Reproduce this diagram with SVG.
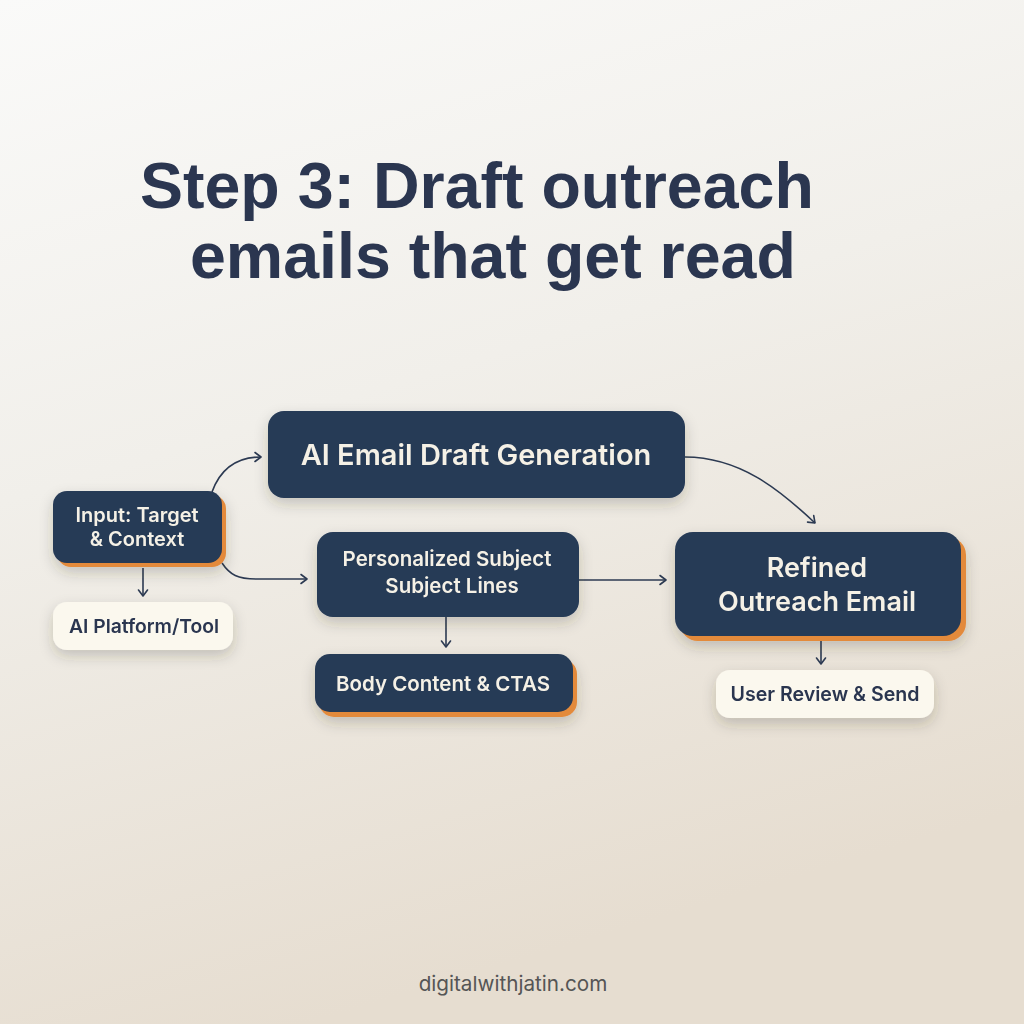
<svg xmlns="http://www.w3.org/2000/svg" width="1024" height="1024" viewBox="0 0 1024 1024">
<defs>
<linearGradient id="bg" x1="0" y1="0" x2="0.3" y2="1">
<stop offset="0" stop-color="#fafaf9"/>
<stop offset="0.45" stop-color="#f1efea"/>
<stop offset="1" stop-color="#e6ddd0"/>
</linearGradient>
<filter id="sh" x="-20%" y="-30%" width="140%" height="170%">
<feDropShadow dx="0" dy="6" stdDeviation="7" flood-color="#3a3020" flood-opacity="0.22"/>
</filter>
<marker id="ah" markerWidth="12" markerHeight="12" refX="9" refY="6" orient="auto" markerUnits="userSpaceOnUse">
<path d="M3,1.5 L9,6 L3,10.5" fill="none" stroke="#2c3a52" stroke-width="1.6" stroke-linecap="round" stroke-linejoin="round"/>
</marker>
<style>
.dark{fill:#263a56}
.acc{fill:#e38a3a}
.light{fill:#fbf8ee}
.tl{font-family:Inter,"Liberation Sans",sans-serif;font-weight:600;fill:#f5f1e6;text-anchor:middle}
.td{font-family:Inter,"Liberation Sans",sans-serif;font-weight:600;fill:#2a3650;text-anchor:middle}
.con{fill:none;stroke:#2c3a52;stroke-width:1.6;marker-end:url(#ah)}
.title{font-family:"Liberation Sans",Arial,sans-serif;font-weight:700;font-size:64.5px;fill:#2b3650}
</style>
</defs>
<rect width="1024" height="1024" fill="url(#bg)"/>
<g id="title">
<text class="title" x="140" y="208">Step 3: Draft outreach</text>
<text class="title" x="190" y="278">emails that get read</text>
</g>
<g id="connectors">
<path class="con" d="M212,492 C220,470 236,457 261,457"/>
<path class="con" d="M222,563 C230,575 238,579 256,579 L307,579"/>
<path class="con" d="M143,568 L143,596"/>
<path class="con" d="M685,457 C740,457 780,490 815,523"/>
<path class="con" d="M579,580 L666,580"/>
<path class="con" d="M446,617 L446,647"/>
<path class="con" d="M821,641 L821,664"/>
</g>
<g id="n-input" filter="url(#sh)">
<rect class="acc" x="57" y="495" width="169" height="72" rx="14"/>
<rect class="dark" x="53" y="491" width="169" height="72" rx="14"/>
<text class="tl" x="137" y="522" font-size="20">Input: Target</text>
<text class="tl" x="137" y="546" font-size="20">&amp; Context</text>
</g>
<g id="n-platform" filter="url(#sh)">
<rect class="light" x="53" y="602" width="180" height="48" rx="14"/>
<text class="td" x="144" y="633" font-size="19.3">AI Platform/Tool</text>
</g>
<g id="n-aidraft" filter="url(#sh)">
<rect class="dark" x="268" y="411" width="417" height="87" rx="16"/>
<text class="tl" x="476" y="465" font-size="29">AI Email Draft Generation</text>
</g>
<g id="n-subject" filter="url(#sh)">
<rect class="dark" x="317" y="532" width="262" height="85" rx="16"/>
<text class="tl" x="447" y="566" font-size="20.5">Personalized Subject</text>
<text class="tl" x="452" y="593" font-size="20.5">Subject Lines</text>
</g>
<g id="n-body" filter="url(#sh)">
<rect class="acc" x="319" y="659" width="258" height="58" rx="15"/>
<rect class="dark" x="315" y="654" width="258" height="58" rx="15"/>
<text class="tl" x="443" y="691" font-size="20.5">Body Content &amp; CTAS</text>
</g>
<g id="n-refined" filter="url(#sh)">
<rect class="acc" x="680" y="537" width="286" height="104" rx="18"/>
<rect class="dark" x="675" y="532" width="286" height="104" rx="18"/>
<text class="tl" x="817" y="577" font-size="27">Refined</text>
<text class="tl" x="817" y="611" font-size="27">Outreach Email</text>
</g>
<g id="n-review" filter="url(#sh)">
<rect class="light" x="716" y="670" width="218" height="48" rx="14"/>
<text class="td" x="825" y="701" font-size="19.6">User Review &amp; Send</text>
</g>
<g id="footer">
<text x="513" y="991" font-family="Inter,'Liberation Sans',sans-serif" font-size="20.7" fill="#555555" text-anchor="middle">digitalwithjatin.com</text>
</g>
</svg>
